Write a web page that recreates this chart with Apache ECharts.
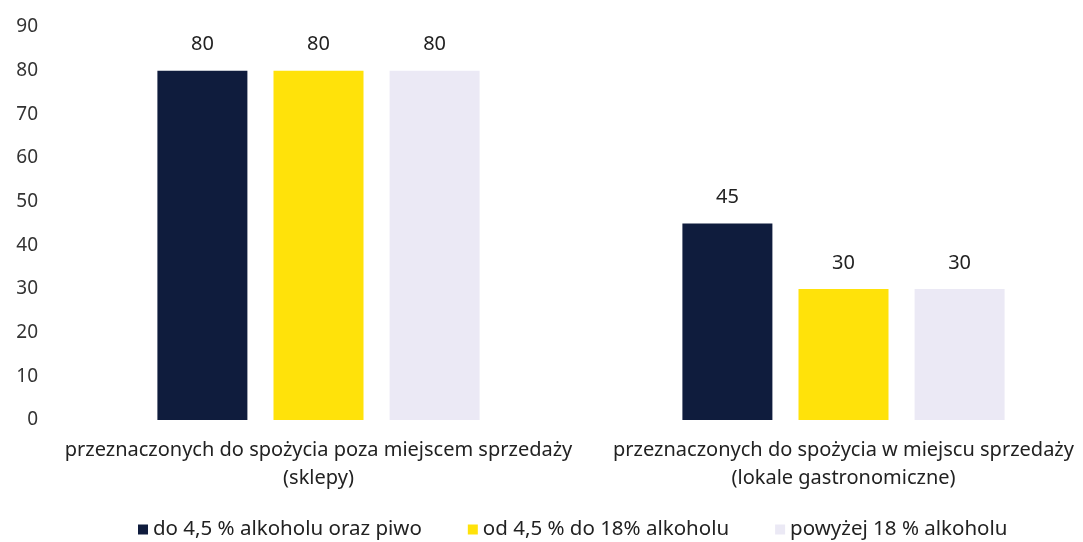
<!DOCTYPE html>
<html><head><meta charset="utf-8">
<script src="https://cdn.jsdelivr.net/npm/echarts@6/dist/echarts.min.js"></script>
<style>html,body{margin:0;padding:0;background:#fff}#c{width:1083px;height:542px}</style>
</head><body><div id="c"></div>
<script>
const categories = ['przeznaczonych do spożycia poza miejscem sprzedaży\n(sklepy)', 'przeznaczonych do spożycia w miejscu sprzedaży\n(lokale gastronomiczne)'];
const seriesNames = ['do 4,5 % alkoholu oraz piwo', 'od 4,5 % do 18% alkoholu', 'powyżej 18 % alkoholu'];
const seriesA = [80, 45];
const seriesB = [80, 30];
const seriesC = [80, 30];
const colors = ['#0f1c3d', '#ffe20a', '#ebe9f5'];
const font = 'Noto Sans';
const chart = echarts.init(document.getElementById('c'));
const values = [seriesA, seriesB, seriesC];
chart.setOption({
  animation: false,
  textStyle: {fontFamily: font},
  grid: {left: 56, top: 27, width: 1050, bottom: 122, containLabel: false, outerBoundsMode: 'none'},
  legend: {
    left: 133, top: 514, icon: 'rect', itemWidth: 10, itemHeight: 10, itemGap: 46,
    textStyle: {fontSize: 20.5, color: '#222', fontFamily: font},
    data: seriesNames
  },
  xAxis: {
    type: 'category', data: categories,
    axisLine: {show: false}, axisTick: {show: false},
    axisLabel: {interval: 0, fontSize: 20, color: '#222', lineHeight: 28, margin: 16, fontFamily: font}
  },
  yAxis: {
    type: 'value', min: 0, max: 90, interval: 10,
    splitLine: {show: false}, axisLine: {show: false}, axisTick: {show: false},
    axisLabel: {fontSize: 19, color: '#333', margin: 18, fontFamily: font}
  },
  series: values.map((v, i) => ({
    name: seriesNames[i], type: 'bar', data: v, barWidth: 90, barGap: '29%',
    itemStyle: {color: colors[i]},
    label: {show: true, position: 'top', distance: 16, fontSize: 20, color: '#222', fontFamily: font}
  }))
});
</script></body></html>
